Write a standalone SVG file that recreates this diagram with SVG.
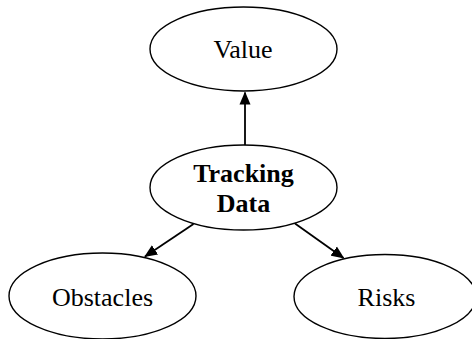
<svg xmlns="http://www.w3.org/2000/svg" width="472" height="339" viewBox="0 0 472 339">
<style>
.node ellipse{fill:#fff;stroke:#000;stroke-width:1.4}
.node text{font-family:"Liberation Serif","Times New Roman",serif;font-size:26px;fill:#000;text-anchor:middle}
.node text.b{font-weight:bold;font-size:26px}
.edges line{stroke:#000;stroke-width:1.8;fill:none}
</style>
<defs>
<marker id="ah" markerUnits="userSpaceOnUse" markerWidth="14" markerHeight="12" refX="12" refY="6" orient="auto">
<path d="M0,0.5 L13,6 L0,11.5 Z" fill="#000"/>
</marker>
</defs>
<rect width="472" height="339" fill="#fff"/>
<g id="value" class="node">
<ellipse cx="243.5" cy="49" rx="93.5" ry="42"/>
<text x="243" y="58">Value</text>
</g>
<g id="tracking-data" class="node">
<ellipse cx="243.5" cy="187.5" rx="93.5" ry="42.5"/>
<text class="b" x="243.5" y="182">Tracking</text>
<text class="b" x="243.5" y="212">Data</text>
</g>
<g id="obstacles" class="node">
<ellipse cx="102.5" cy="296" rx="93.5" ry="43"/>
<text x="102.5" y="306">Obstacles</text>
</g>
<g id="risks" class="node">
<ellipse cx="385" cy="296.5" rx="91" ry="42"/>
<text x="386.5" y="306">Risks</text>
</g>
<g id="connectors" class="edges">
<line x1="245" y1="145" x2="245" y2="92.5" marker-end="url(#ah)"/>
<line x1="193.5" y1="224" x2="145" y2="256.5" marker-end="url(#ah)"/>
<line x1="295" y1="223.5" x2="343.5" y2="258" marker-end="url(#ah)"/>
</g>
</svg>
